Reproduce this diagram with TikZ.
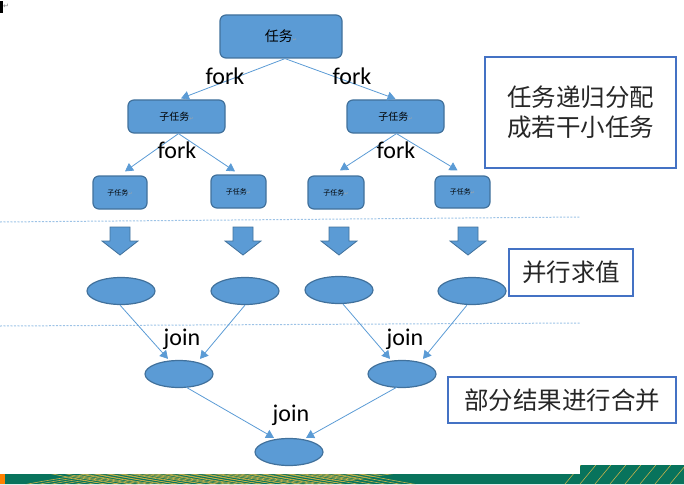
\documentclass[tikz,border=0pt]{standalone}
\usepackage{fontspec}
\setmainfont{Carlito}
\newfontfamily\cjk{Noto Sans CJK SC}
\newfontfamily\dv{DejaVu Sans}
\usetikzlibrary{arrows.meta,shapes.geometric}
\definecolor{bfill}{HTML}{5B9BD5}
\definecolor{bdraw}{HTML}{41719C}
\definecolor{bline}{HTML}{5B9BD5}
\definecolor{boxb}{HTML}{4472C4}
\definecolor{dashc}{HTML}{9DC3E6}
\definecolor{teal}{HTML}{08735C}
\definecolor{goldl}{HTML}{C9B24A}
\newcommand{\retmark}{{\dv\color{gray!70}\fontsize{5}{5}\selectfont ↵}}
\tikzset{
  task/.style={draw=bdraw, fill=bfill, line width=1.2pt, rounded corners=6pt, inner sep=0pt},
  ell/.style={ellipse, draw=bdraw, fill=bfill, line width=1.2pt, minimum width=68pt, minimum height=27pt, inner sep=0pt},
  arr/.style={draw=bline, line width=0.8pt, -{Triangle[length=8pt,width=9pt]}},
  lbl/.style={font=\fontsize{24}{24}\selectfont, text=black, inner sep=0pt},
  infobox/.style={draw=boxb, line width=2.2pt, fill=white, inner sep=0pt, font=\cjk\fontsize{24.5}{30}\selectfont, text=black!85, align=center},
  dsh/.style={draw=dashc, line width=1pt, dash pattern=on 2pt off 1.5pt},
  blockarr/.style={fill=bfill, draw=bdraw, line width=0.8pt}
}
\begin{document}
\begin{tikzpicture}[x=1pt,y=-1pt]
\useasboundingbox (0,0) rectangle (684,484);
% bottom band
\fill[teal] (0,474) -- (580,474) -- (580,465) -- (684,465) -- (684,484) -- (0,484) -- cycle;
\begin{scope}
\clip (0,474) -- (580,474) -- (580,465) -- (684,465) -- (684,484) -- (0,484) -- cycle;
\foreach \i in {0,12,...,300} {\draw[goldl, line width=0.6pt] (\i,490) .. controls (\i+60,476) and (\i+120,470) .. (\i+200,462);}
\foreach \i in {0,14,...,320} {\draw[goldl, line width=0.6pt] (\i,462) .. controls (\i+40,472) and (\i+80,480) .. (\i+140,490);}
\foreach \i in {560,575,...,700} {\draw[goldl, line width=0.6pt] (\i,490) -- (\i+25,460);}
\fill[orange] (0,470) rectangle (5,484);
\end{scope}
% top-left mark
\fill[black] (0,1) rectangle (2.5,13);
\node[inner sep=0pt, font=\dv\fontsize{7}{7}\selectfont, text=gray] (mk) at (6,6) {↵};
% dashed separators
\draw[dsh] (0,222) -- (580,217);
\draw[dsh] (0,326) -- (580,323);
% task tree
\node[task, minimum width=122pt, minimum height=43pt] (t) at (281,36.5) {\cjk\fontsize{14}{14}\selectfont 任务\retmark};
\node[task, minimum width=97pt, minimum height=33pt] (a) at (176.5,116.5) {\cjk\fontsize{10}{10}\selectfont 子任务\retmark};
\node[task, minimum width=97pt, minimum height=33pt] (b) at (395.5,116.5) {\cjk\fontsize{10}{10}\selectfont 子任务\retmark};
\node[task, minimum width=54pt, minimum height=33pt] (a1) at (120,192.5) {\cjk\fontsize{7}{7}\selectfont 子任务\retmark};
\node[task, minimum width=55pt, minimum height=33pt] (a2) at (238.5,191.5) {\cjk\fontsize{7}{7}\selectfont 子任务\retmark};
\node[task, minimum width=56pt, minimum height=33pt] (b1) at (336,192.5) {\cjk\fontsize{7}{7}\selectfont 子任务\retmark};
\node[task, minimum width=55pt, minimum height=32pt] (b2) at (462.5,192) {\cjk\fontsize{7}{7}\selectfont 子任务\retmark};
\draw[arr] ([xshift=4pt]t.south) -- ([xshift=4.5pt,yshift=1pt]a.north);
\draw[arr] ([xshift=4pt]t.south) -- ([yshift=0.5pt]b.north);
\draw[arr] ([xshift=2pt]a.south) -- ([xshift=5pt,yshift=4pt]a1.north);
\draw[arr] ([xshift=2pt]a.south) -- ([xshift=-3.5pt,yshift=3pt]a2.north);
\draw[arr] ([xshift=1pt]b.south) -- ([xshift=4pt,yshift=5pt]b1.north);
\draw[arr] ([xshift=1pt]b.south) -- ([xshift=-5pt,yshift=5pt]b2.north);
\node[lbl] (f1) at (225,76) {fork};
\node[lbl] (f2) at (352,76) {fork};
\node[lbl] (f3) at (177,150) {fork};
\node[lbl] (f4) at (396,150) {fork};
% block arrows
\foreach \cx in {120,243,339,468} {
  \draw[blockarr] (\cx-10,227) -- (\cx+10,227) -- (\cx+10,241) -- (\cx+18,241) -- (\cx,255) -- (\cx-18,241) -- (\cx-10,241) -- cycle;
}
% ellipses
\node[ell] (e1) at (121,291) {};
\node[ell] (e2) at (245,291) {};
\node[ell] (e3) at (339,290) {};
\node[ell] (e4) at (472,291) {};
\node[ell] (m1) at (179,374) {};
\node[ell] (m2) at (402,374) {};
\node[ell] (r) at (289,452) {};
\draw[arr] ([xshift=-1pt]e1.south) -- ([xshift=-11pt,yshift=1pt]m1.north);
\draw[arr] (e2.south) -- ([xshift=21pt,yshift=1pt]m1.north);
\draw[arr] ([xshift=4pt]e3.south) -- ([xshift=-12pt,yshift=1pt]m2.north);
\draw[arr] ([xshift=-5pt]e4.south) -- ([xshift=21pt,yshift=1pt]m2.north);
\draw[arr] ([xshift=7pt,yshift=1pt]m1.south) -- ([xshift=-15pt,yshift=0pt]r.north);
\draw[arr] ([xshift=-5pt,yshift=1pt]m2.south) -- ([xshift=17pt,yshift=0pt]r.north);
\node[lbl] (j1) at (182,339) {join};
\node[lbl] (j2) at (405,339) {join};
\node[lbl] (j3) at (291,415) {join};
% info boxes
\node[infobox, minimum width=191pt, minimum height=111pt] (i1) at (580.5,112.5) {任务递归分配\\成若干小任务};
\node[infobox, minimum width=124pt, minimum height=47pt] (i2) at (571,272.5) {并行求值};
\node[infobox, minimum width=228pt, minimum height=46pt] (i3) at (562,400) {部分结果进行合并};
\end{tikzpicture}
\end{document}
